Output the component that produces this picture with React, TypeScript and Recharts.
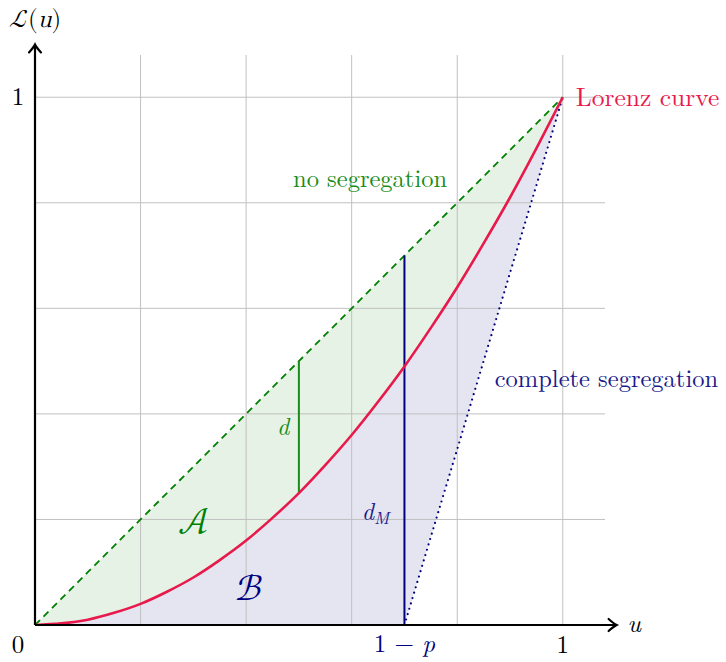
import {
  ComposedChart,
  Area,
  Line,
  XAxis,
  YAxis,
  ReferenceLine,
  ReferenceDot,
} from "recharts";

// share of population u and the cumulative share L(u)
const U = [0, 0.05, 0.1, 0.15, 0.2, 0.25, 0.3, 0.35, 0.4, 0.45, 0.5, 0.55, 0.6, 0.65, 0.7, 0.75, 0.8, 0.85, 0.9, 0.95, 1];
const LORENZ = [0, 0.003, 0.01, 0.023, 0.04, 0.063, 0.09, 0.123, 0.16, 0.203, 0.25, 0.303, 0.36, 0.423, 0.49, 0.563, 0.64, 0.723, 0.81, 0.903, 1];
const NO_SEGREGATION = [0, 0.05, 0.1, 0.15, 0.2, 0.25, 0.3, 0.35, 0.4, 0.45, 0.5, 0.55, 0.6, 0.65, 0.7, 0.75, 0.8, 0.85, 0.9, 0.95, 1];
const COMPLETE_SEGREGATION = [0, 0, 0, 0, 0, 0, 0, 0, 0, 0, 0, 0, 0, 0, 0, 0.167, 0.333, 0.5, 0.667, 0.833, 1];

const GRID = [0.2, 0.4, 0.6, 0.8, 1];
const D_AT = 0.5;
const D_RANGE = [0.25, 0.5];
const DM_AT = 0.7; // 1 - p
const DM_RANGE = [0, 0.7];

const GREEN = "#008000";
const NAVY = "#000080";
const CRIMSON = "#e8194b";
const FONT = "Latin Modern Roman";
const MATH_FONT = "Latin Modern Math";

const data = U.map((u, i) => ({
  u,
  lorenz: LORENZ[i],
  equal: NO_SEGREGATION[i],
  seg: COMPLETE_SEGREGATION[i],
}));

function arrowShape(props: any) {
  const { x1, y1, x2, y2 } = props;
  const len = Math.hypot(x2 - x1, y2 - y1) || 1;
  const ux = (x2 - x1) / len;
  const uy = (y2 - y1) / len;
  const nx = -uy;
  const ny = ux;
  const p = (b: number, h: number) => `${x2 - b * ux + h * nx},${y2 - b * uy + h * ny}`;
  return (
    <g>
      <line x1={x1} y1={y1} x2={x2 - ux} y2={y2 - uy} stroke="#000" strokeWidth={2.2} />
      <path
        d={`M${p(8, 6)} Q${p(3, 1.5)} ${p(0, 0)} Q${p(3, -1.5)} ${p(8, -6)}`}
        fill="none"
        stroke="#000"
        strokeWidth={2.2}
        strokeLinecap="round"
      />
    </g>
  );
}

function textAt(
  content: any,
  opts: { dx?: number; dy?: number; color?: string; anchor?: string; size?: number; italic?: boolean; font?: string }
) {
  const family = opts.font || FONT;
  return (p: any) => (
    <text
      x={p.cx + (opts.dx || 0)}
      y={p.cy + (opts.dy || 0)}
      fill={opts.color || "#000"}
      textAnchor={(opts.anchor as any) || "start"}
      fontFamily={family}
      style={{
        fontFamily: `"${family}"`,
        fontSize: opts.size || 25,
        fontStyle: opts.italic ? "italic" : "normal",
      }}
    >
      {content}
    </text>
  );
}

export default function App() {
  return (
    <div style={{ position: "absolute", left: 0, top: 0, width: 726, height: 662 }}>
      <ComposedChart width={726} height={662} data={data} margin={{ top: 55, right: 121, bottom: 37, left: 35 }}>
        <XAxis type="number" dataKey="u" domain={[0, 1.08]} hide allowDataOverflow />
        <YAxis type="number" domain={[0, 1.08]} hide allowDataOverflow />

        <Area
          type="linear"
          dataKey={(d: any) => [d.lorenz, d.equal]}
          stroke="none"
          fill={GREEN}
          fillOpacity={0.1}
          isAnimationActive={false}
        />
        <Area
          type="linear"
          dataKey={(d: any) => [d.seg, d.lorenz]}
          stroke="none"
          fill={NAVY}
          fillOpacity={0.1}
          isAnimationActive={false}
        />

        {GRID.map((v) => (
          <ReferenceLine key={`gx${v}`} x={v} stroke="#c0c0c0" strokeWidth={1} />
        ))}
        {GRID.map((v) => (
          <ReferenceLine key={`gy${v}`} y={v} stroke="#c0c0c0" strokeWidth={1} />
        ))}

        <Line
          type="linear"
          dataKey="seg"
          stroke={NAVY}
          strokeWidth={2.2}
          strokeDasharray="0 5.6"
          strokeLinecap="round"
          dot={false}
          isAnimationActive={false}
        />
        <Line
          type="linear"
          dataKey="equal"
          stroke={GREEN}
          strokeWidth={1.8}
          strokeDasharray="7 5"
          dot={false}
          isAnimationActive={false}
        />

        <ReferenceLine
          segment={[{ x: D_AT, y: D_RANGE[0] }, { x: D_AT, y: D_RANGE[1] }]}
          stroke="#1a8c1a"
          strokeWidth={2}
        />
        <ReferenceLine
          segment={[{ x: DM_AT, y: DM_RANGE[0] }, { x: DM_AT, y: DM_RANGE[1] }]}
          stroke={NAVY}
          strokeWidth={2}
        />

        <Line
          type="monotone"
          dataKey="lorenz"
          stroke={CRIMSON}
          strokeWidth={2.6}
          dot={false}
          isAnimationActive={false}
        />

        <ReferenceLine segment={[{ x: 0, y: 0 }, { x: 1.102, y: 0 }]} ifOverflow="visible" shape={arrowShape} />
        <ReferenceLine segment={[{ x: 0, y: 0 }, { x: 0, y: 1.1 }]} ifOverflow="visible" shape={arrowShape} />

        <ReferenceDot
          x={0}
          y={1.1326}
          r={0}
          ifOverflow="visible"
          shape={textAt(
            <>
              <tspan>ℒ(</tspan>
              <tspan fontStyle="italic">u</tspan>
              <tspan>)</tspan>
            </>,
            { anchor: "middle", size: 25, font: MATH_FONT }
          )}
        />
        <ReferenceDot x={0} y={1} r={0} ifOverflow="visible" shape={textAt("1", { dx: -17, dy: 8, anchor: "middle" })} />
        <ReferenceDot x={0} y={0} r={0} ifOverflow="visible" shape={textAt("0", { dx: -17, dy: 28, anchor: "middle" })} />
        <ReferenceDot x={1} y={0} r={0} ifOverflow="visible" shape={textAt("1", { dy: 28, anchor: "middle" })} />
        <ReferenceDot
          x={DM_AT}
          y={0}
          r={0}
          ifOverflow="visible"
          shape={textAt(
            <>
              <tspan>1 − </tspan>
              <tspan fontStyle="italic">p</tspan>
            </>,
            { dy: 27, anchor: "middle", color: NAVY }
          )}
        />
        <ReferenceDot x={1.102} y={0} r={0} ifOverflow="visible" shape={textAt("u", { dx: 11, dy: 7, italic: true })} />
        <ReferenceDot x={1} y={1} r={0} ifOverflow="visible" shape={textAt("Lorenz curve", { dx: 13, dy: 9, color: CRIMSON, size: 25.5 })} />
        <ReferenceDot x={0.489} y={0.83} r={0} ifOverflow="visible" shape={textAt("no segregation", { color: "#1a8c1a", size: 24.5 })} />
        <ReferenceDot x={0.871} y={0.451} r={0} ifOverflow="visible" shape={textAt("complete segregation", { color: "#1a1a8c", size: 24.5 })} />
        <ReferenceDot x={0.47} y={0.36} r={0} ifOverflow="visible" shape={textAt("d", { anchor: "middle", italic: true, color: "#1a8c1a", size: 24 })} />
        <ReferenceDot
          x={0.619}
          y={0.199}
          r={0}
          ifOverflow="visible"
          shape={textAt(
            <>
              <tspan fontStyle="italic">d</tspan>
              <tspan fontStyle="italic" fontSize={17} dy={4}>M</tspan>
            </>,
            { color: "#1a1a8c", size: 24 }
          )}
        />
        <ReferenceDot x={0.271} y={0.174} r={0} ifOverflow="visible" shape={textAt("𝒜", { color: GREEN, size: 36, font: MATH_FONT })} />
        <ReferenceDot x={0.379} y={0.047} r={0} ifOverflow="visible" shape={textAt("ℬ", { color: NAVY, size: 36, font: MATH_FONT })} />
      </ComposedChart>
    </div>
  );
}
